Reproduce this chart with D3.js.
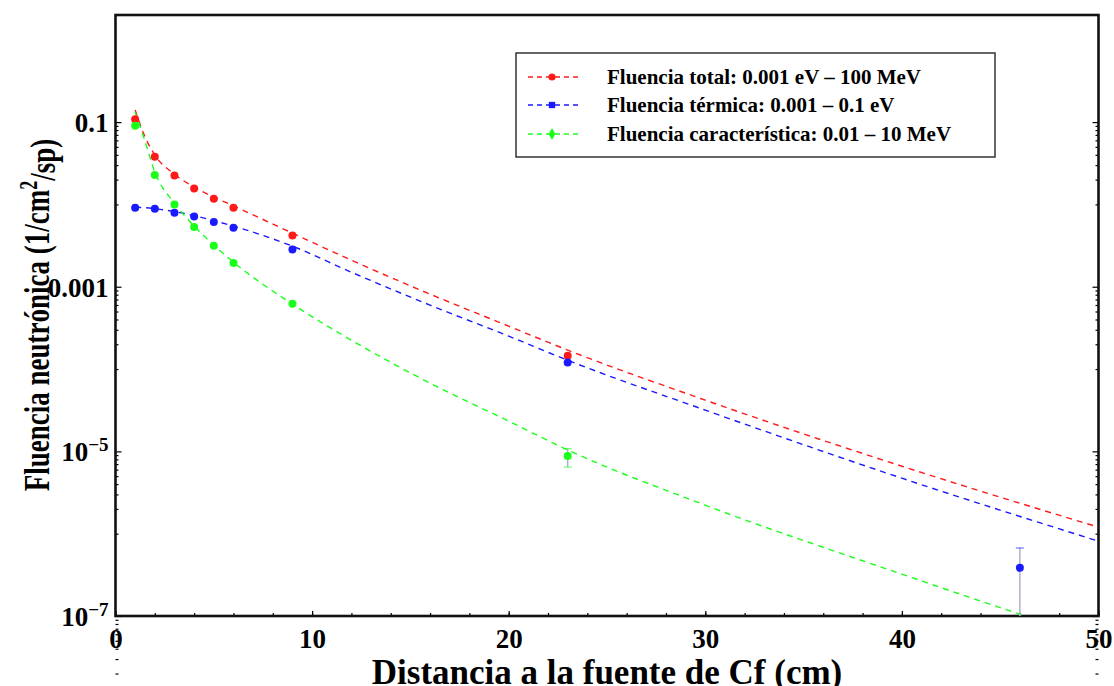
<!DOCTYPE html>
<html><head><meta charset="utf-8">
<script src="https://cdn.jsdelivr.net/npm/d3@7"></script>
<style>
body{margin:0;background:#fff;}
svg text{font-family:"Liberation Serif","Times New Roman",serif;font-weight:bold;fill:#000;}
</style></head>
<body><svg id="c" width="1114" height="686"></svg>
<script>
// ---- data ----
const distances = [1, 2, 3, 4, 5, 6, 9, 23];
const totalValues = [0.108, 0.038, 0.0224, 0.0156, 0.0117, 0.0091, 0.0042, 1.45e-4];
const thermalDist = [1, 2, 3, 4, 5, 6, 9, 23, 46];
const thermalValues = [0.0091, 0.00885, 0.0079, 0.00715, 0.0061, 0.0052, 0.00284, 1.2e-4, 3.85e-7];
const charValues = [0.090, 0.0227, 0.0100, 0.0053, 0.00315, 0.00194, 6.2e-4, 8.8e-6];
// error bars: [distance, low, high, seriesIndex]
const errorBars = [[23, 6.45e-6, 1.08e-5, 2], [46, 5e-8, 6.7e-7, 1]];
// fitted curves
const fitTotalX = [1, 1.5, 2, 3, 4, 5, 6, 9, 12, 16, 20, 23, 30, 40, 50];
const fitTotalY = [0.140, 0.0662, 0.0398, 0.0233, 0.0162, 0.0123, 0.0096, 4.48e-3, 2.10e-3, 8.13e-4, 3.32e-4, 1.70e-4, 4.19e-5, 6.6e-6, 1.20e-6];
const fitThermX = [1, 2, 3, 4, 5, 6, 9, 12, 16, 20, 23, 30, 40, 50];
const fitThermY = [9.27e-3, 8.89e-3, 8.18e-3, 7.31e-3, 6.36e-3, 5.45e-3, 3.11e-3, 1.50e-3, 5.97e-4, 2.51e-4, 1.28e-4, 3.17e-5, 4.72e-6, 8.11e-7];
const fitCharX = [1, 1.5, 2, 3, 4, 5, 6, 9, 12, 16, 20, 23, 30, 40, 46, 50];
const fitCharY = [0.1324, 0.0587, 0.0247, 0.01037, 5.45e-3, 3.20e-3, 1.99e-3, 6.15e-4, 2.24e-4, 6.74e-5, 2.33e-5, 1.04e-5, 2.22e-6, 3.22e-7, 1.05e-7, 5.08e-8];
const seriesNames = ["Fluencia total: 0.001 eV \u2013 100 MeV", "Fluencia t\u00e9rmica: 0.001 \u2013 0.1 eV", "Fluencia caracter\u00edstica: 0.01 \u2013 10 MeV"];
const seriesColors = ["#ff1a1a", "#1a1aff", "#1aff1a"];
const xTickLabels = [0, 10, 20, 30, 40, 50];
const yTickLabels = [0.1, 0.001, 1e-5, 1e-7];
const xLabel = "Distancia a la fuente de Cf (cm)";
const yLabel = "Fluencia neutr\u00f3nica (1/cm";

// ---- layout ----
const L = 115.5, R = 1098.5, T = 15, B = 616;
const svg = d3.select("#c");
const x = d3.scaleLinear().domain([0, 50]).range([L, R]);
const y = d3.scaleLog().domain([1e-7, 2]).range([B, T]);

svg.append("clipPath").attr("id", "clp").append("rect")
  .attr("x", L).attr("y", T).attr("width", R - L).attr("height", B - T);

const yMinor = [];
yTickLabels.forEach(v => { for (let k = 1; k <= 9; k++) yMinor.push(v / 10 * k); });
const xMinor = d3.range(0, 51, 2);

const gx = svg.append("g").attr("transform", `translate(0,${B})`)
  .call(d3.axisBottom(x).tickValues(xMinor).tickSize(-3).tickFormat(""));
const gx2 = svg.append("g").attr("transform", `translate(0,${B})`)
  .call(d3.axisBottom(x).tickValues(xTickLabels).tickSize(-5).tickFormat(""));
const gy = svg.append("g").attr("transform", `translate(${L},0)`)
  .call(d3.axisLeft(y).tickValues(yMinor).tickSize(-3).tickFormat(""));
const gy2 = svg.append("g").attr("transform", `translate(${L},0)`)
  .call(d3.axisLeft(y).tickValues(yTickLabels).tickSize(-6).tickFormat(""));
const gyr = svg.append("g").attr("transform", `translate(${R},0)`)
  .call(d3.axisRight(y).tickValues(yMinor).tickSize(-3).tickFormat(""));
const gyr2 = svg.append("g").attr("transform", `translate(${R},0)`)
  .call(d3.axisRight(y).tickValues(yTickLabels).tickSize(-6).tickFormat(""));
[gx, gx2, gy, gy2, gyr, gyr2].forEach(g => {
  g.select(".domain").remove();
  g.selectAll(".tick line").attr("stroke", "#000").attr("stroke-width", 1.2);
});

// x tick labels
gx2.selectAll(".tick").each(function(d) {
  d3.select(this).append("text").attr("y", 32)
    .attr("text-anchor", "middle").style("font-size", "27px").text(d3.format("d")(d));
});

// y tick labels with superscripts
gy2.selectAll(".tick").each(function(d) {
  const t = d3.select(this).append("text").attr("x", -7).attr("dy", "0.35em").attr("text-anchor", "end")
    .style("font-size", "27px");
  const e = Math.round(Math.log10(d));
  if (e >= -3) { t.text(d3.format(".3~f")(d)); }
  else {
    t.append("tspan").text("10");
    t.append("tspan").attr("dy", "-0.55em").style("font-size", "19px").text("\u2212" + (-e));
  }
});

// frame
svg.append("rect").attr("x", L).attr("y", T).attr("width", R - L).attr("height", B - T)
  .attr("fill", "none").attr("stroke", "#111").attr("stroke-width", 2.6);

// fit curves
const line = d3.line().x(d => x(d[0])).y(d => y(d[1])).curve(d3.curveMonotoneX);
const fits = [d3.zip(fitTotalX, fitTotalY), d3.zip(fitThermX, fitThermY), d3.zip(fitCharX, fitCharY)];
const gp = svg.append("g").attr("clip-path", "url(#clp)");
fits.forEach((f, i) => {
  gp.append("path").datum(f).attr("d", line).attr("fill", "none")
    .attr("stroke", seriesColors[i]).attr("stroke-width", 1.4).attr("stroke-dasharray", "6,5");
});

// error bars
errorBars.forEach(e => {
  const cx = x(e[0]);
  gp.append("line").attr("x1", cx).attr("x2", cx).attr("y1", y(e[1])).attr("y2", y(e[2]))
    .attr("stroke", "#b0b0cc").attr("stroke-width", 1.5);
  [e[1], e[2]].forEach(v => {
    gp.append("line").attr("x1", cx - 4).attr("x2", cx + 4).attr("y1", y(v)).attr("y2", y(v))
      .attr("stroke", seriesColors[e[3]]).attr("stroke-width", 1.2).attr("opacity", 0.6);
  });
});

// points
const pts = [d3.zip(distances, totalValues), d3.zip(thermalDist, thermalValues), d3.zip(distances, charValues)];
pts.forEach((p, i) => {
  gp.selectAll(null).data(p).enter().append("circle")
    .attr("cx", d => x(d[0])).attr("cy", d => y(d[1])).attr("r", 4)
    .attr("fill", seriesColors[i]);
});

// legend
const lg = svg.append("g");
lg.append("rect").attr("x", 516).attr("y", 53).attr("width", 479).attr("height", 104)
  .attr("fill", "#fff").attr("stroke", "#333").attr("stroke-width", 1.5);
const rowsY = [77, 105, 134];
seriesNames.forEach((n, i) => {
  const yy = rowsY[i];
  lg.append("line").attr("x1", 528).attr("x2", 578).attr("y1", yy).attr("y2", yy)
    .attr("stroke", seriesColors[i]).attr("stroke-width", 1.3).attr("stroke-dasharray", "5,4");
  const sym = [d3.symbolCircle, d3.symbolSquare, d3.symbolDiamond][i];
  lg.append("path").attr("d", d3.symbol(sym, 40)).attr("transform", `translate(552,${yy})`).attr("fill", seriesColors[i]);
  lg.append("text").attr("x", 607).attr("y", yy).attr("dy", "0.35em").style("font-size", "21px").text(n);
});

// axis titles
svg.append("text").attr("x", 607).attr("y", 684).attr("text-anchor", "middle")
  .style("font-size", "35px").text(xLabel);
const yt = svg.append("text").attr("transform", "translate(36,315) scale(1.35,1) rotate(-90)").attr("text-anchor", "middle")
  .attr("dy", "0.35em").style("font-size", "27px");
yt.append("tspan").text(yLabel);
yt.append("tspan").attr("dy", "-0.5em").style("font-size", "18px").text("2");
yt.append("tspan").attr("dy", "0.5em").text("/sp)");
</script></body></html>
